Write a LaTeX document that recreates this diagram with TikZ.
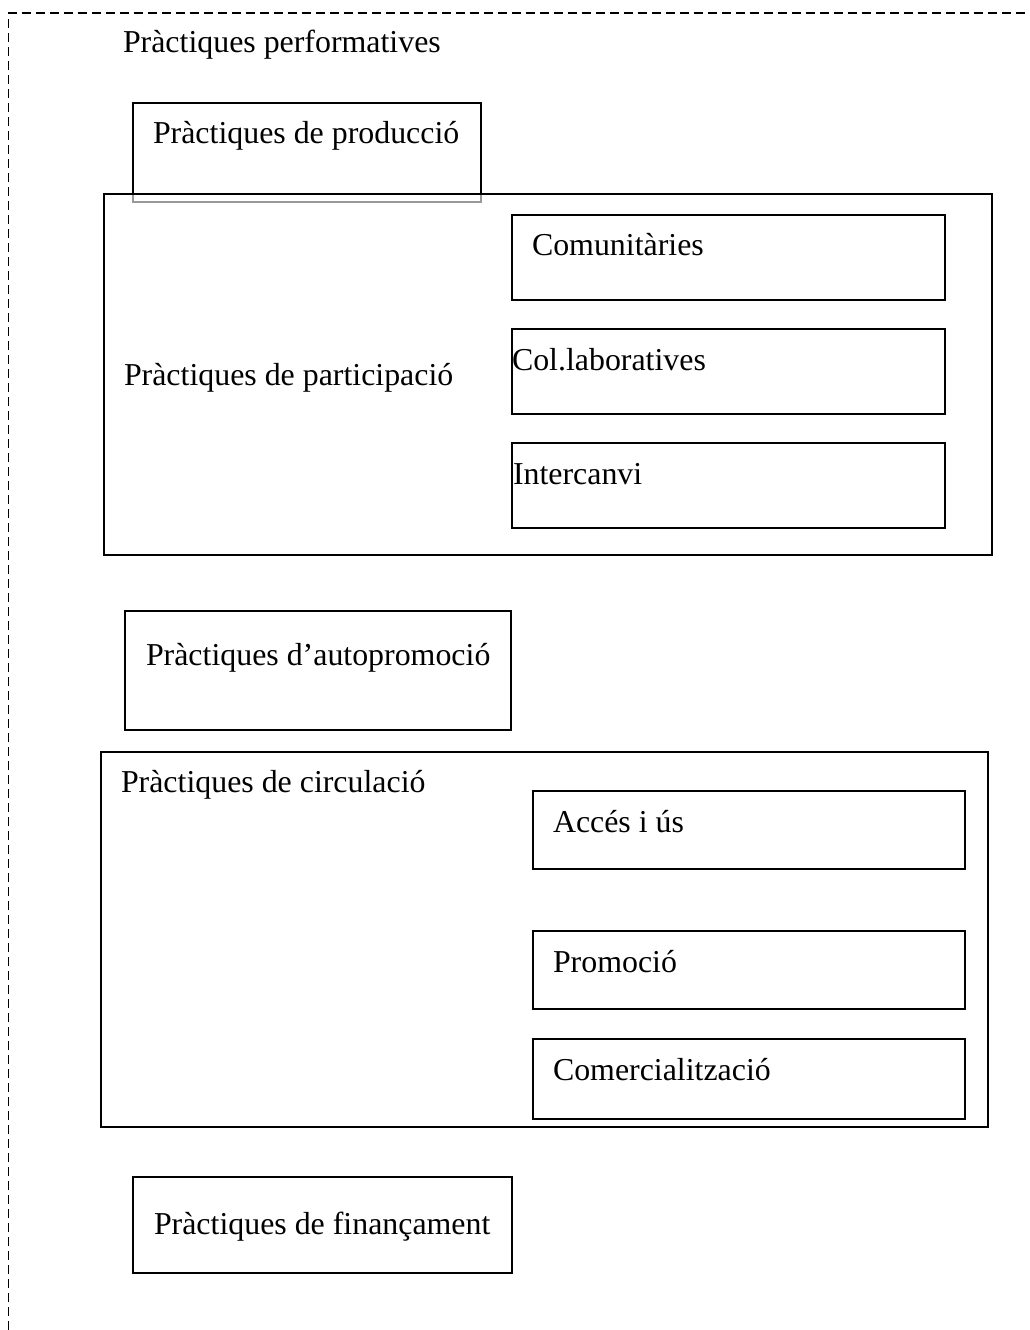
\documentclass[tikz,border=0pt]{standalone}
\usepackage{fontspec}
\setmainfont{Liberation Serif}
\begin{document}
\begin{tikzpicture}[x=1bp,y=-1bp,
  box/.style={draw=black,line width=2bp,rectangle,inner sep=0pt,outer sep=0pt,anchor=north west},
  lbl/.style={anchor=base west,inner sep=0pt,outer sep=0pt,font=\fontsize{32}{38}\selectfont},
  frame/.style={line width=1.6bp,dash pattern=on 9bp off 5bp}]
\useasboundingbox (0,0) rectangle (1029,1330);

% outer dashed frame (only its top and left sides fall on the page)
\coordinate (fbl) at (8.5,1330);
\coordinate (ftl) at (8.5,13);
\coordinate (ftr) at (1029,13);
\draw[frame] (fbl) -- (ftl) -- (ftr);
\node[lbl] (perf) at (123,53) {Pràctiques performatives};

% production box: black above the participation box, grey where it overlaps
\coordinate (pa) at (133,194);
\coordinate (pb) at (133,103);
\coordinate (pc) at (481,103);
\coordinate (pd) at (481,194);
\coordinate (pe) at (133,202.5);
\coordinate (pf) at (481,202.5);
\draw[line width=2bp] (pa) -- (pb) -- (pc) -- (pd);
\draw[line width=2bp,gray!80] (pa) -- (pe) -- (pf) -- (pd);
\node[lbl] (prod) at (153,144) {Pràctiques de producció};

% participation
\node[box,minimum width=888bp,minimum height=361bp] (part) at (104,194) {};
\node[lbl] (partl) at (124,385) {Pràctiques de participació};
\node[box,minimum width=433bp,minimum height=85bp] (com) at (511.5,215) {};
\node[lbl] (coml) at (532,256) {Comunitàries};
\node[box,minimum width=433bp,minimum height=85bp] (col) at (511.5,329) {};
\node[lbl] (coll) at (512,370) {Col.laboratives};
\node[box,minimum width=433bp,minimum height=85bp] (int) at (511.5,443) {};
\node[lbl] (intl) at (513,484) {Intercanvi};

% self-promotion
\node[box,minimum width=386bp,minimum height=119bp] (auto) at (125,610.5) {};
\node[lbl] (autol) at (146,665) {Pràctiques d’autopromoció};

% circulation
\node[box,minimum width=887bp,minimum height=375bp] (circ) at (101,752) {};
\node[lbl] (circl) at (121,792) {Pràctiques de circulació};
\node[box,minimum width=432bp,minimum height=78bp] (acc) at (533,791) {};
\node[lbl] (accl) at (553,832) {Accés i ús};
\node[box,minimum width=432bp,minimum height=78bp] (prom) at (533,931) {};
\node[lbl] (proml) at (553,972) {Promoció};
\node[box,minimum width=432bp,minimum height=80bp] (come) at (533,1039) {};
\node[lbl] (comel) at (553,1080) {Comercialització};

% funding
\node[box,minimum width=379bp,minimum height=96bp] (fin) at (133,1177) {};
\node[lbl] (finl) at (154,1234) {Pràctiques de finançament};
\end{tikzpicture}
\end{document}
